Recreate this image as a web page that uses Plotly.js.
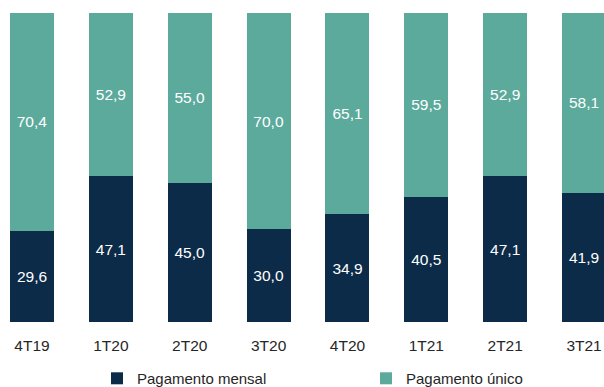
<!DOCTYPE html>
<html><head><meta charset="utf-8">
<script src="https://cdn.plot.ly/plotly-3.0.1.min.js"></script>
<style>html,body{margin:0;padding:0;background:#fff}#chart{width:604px;height:387px}</style>
</head><body><div id="chart"></div>
<script>
var categories = ['4T19','1T20','2T20','3T20','4T20','1T21','2T21','3T21'];
var mensal = [29.6, 47.1, 45.0, 30.0, 34.9, 40.5, 47.1, 41.9];
var unico  = [70.4, 52.9, 55.0, 70.0, 65.1, 59.5, 52.9, 58.1];
var seriesNames = ['Pagamento mensal', 'Pagamento único'];

var FONT = 'Liberation Sans, Arial, sans-serif';
var navy = '#0c2b48', teal = '#5baa9c';
var common = {
  type: 'bar', x: categories, width: 0.558,
  texttemplate: '%{y:.1f}', textposition: 'inside', insidetextanchor: 'middle',
  textfont: {family: FONT, size: 15.5, color: '#ffffff'},
  hoverinfo: 'skip', cliponaxis: false
};
var traces = [
  Object.assign({}, common, {name: seriesNames[0], y: mensal, legend: 'legend', marker: {color: navy, line: {width: 0}}}),
  Object.assign({}, common, {name: seriesNames[1], y: unico, legend: 'legend2', marker: {color: teal, line: {width: 0}}})
];
var legendBase = {orientation: 'h', xanchor: 'left', y: -0.183, yanchor: 'middle',
  font: {family: FONT, size: 15, color: '#262626'}, bgcolor: 'rgba(0,0,0,0)', borderwidth: 0};
var layout = {
  width: 604, height: 387,
  margin: {l: 0, r: 0, t: 13, b: 65, autoexpand: false},
  barmode: 'stack', separators: ',.',
  paper_bgcolor: '#ffffff', plot_bgcolor: '#ffffff',
  showlegend: true,
  font: {family: FONT, color: '#262626'},
  xaxis: {type: 'category', range: [-0.406, 7.253], showgrid: false, zeroline: false, showline: false,
          ticks: '', ticklabelstandoff: 12, tickfont: {family: FONT, size: 15.5, color: '#262626'}},
  yaxis: {range: [0, 100], visible: false, showgrid: false, zeroline: false},
  legend: Object.assign({}, legendBase, {x: 97 / 604}),
  legend2: Object.assign({}, legendBase, {x: 366 / 604})
};
Plotly.newPlot('chart', traces, layout, {displayModeBar: false, staticPlot: true});
</script></body></html>
